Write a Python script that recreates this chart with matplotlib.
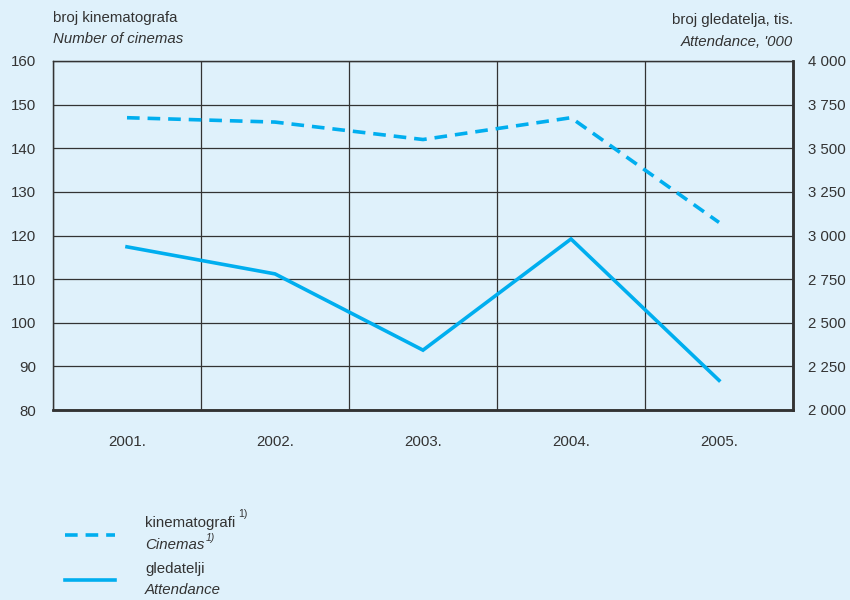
import matplotlib.pyplot as plt
from matplotlib.ticker import FuncFormatter, MultipleLocator

plt.rcParams['font.family'] = ['Liberation Sans', 'DejaVu Sans']

years = ['2001.', '2002.', '2003.', '2004.', '2005.']
cinemas = [147, 146, 142, 147, 123]
attendance = [2935, 2780, 2343, 2980, 2170]

bg = '#dff1fb'
blue = '#00aeef'
dark = '#333333'
fs = 10.8

fig = plt.figure(figsize=(8.5, 6), dpi=100, facecolor=bg)
ax = fig.add_axes([53/850, 1 - 410/600, 740/850, 349/600], facecolor=bg)
ax2 = ax.twinx()

x = range(len(years))
ax.plot(x, cinemas, color=blue, lw=2.6, dashes=(3.5, 2.2), solid_joinstyle='miter')
ax2.plot(x, attendance, color=blue, lw=2.6, solid_joinstyle='miter')

ax.set_xlim(-0.5, len(years) - 0.5)
ax.set_ylim(80, 160)
ax2.set_ylim(2000, 4000)
ax.set_xticks(list(x))
ax.set_xticklabels(years)
ax.xaxis.set_minor_locator(MultipleLocator(1, offset=0.5))
ax.yaxis.set_major_locator(MultipleLocator(10))
ax2.yaxis.set_major_locator(MultipleLocator(250))
ax2.yaxis.set_major_formatter(FuncFormatter(lambda v, p: f'{int(v):,}'.replace(',', ' ')))

ax.grid(True, which='minor', axis='x', color=dark, lw=0.9)
ax.grid(True, which='major', axis='y', color=dark, lw=0.9)
ax.set_axisbelow(True)

ax.tick_params(axis='both', which='both', length=0, labelsize=fs, labelcolor=dark)
ax.tick_params(axis='y', pad=12)
ax.tick_params(axis='x', pad=18)
ax2.tick_params(axis='y', length=0, labelsize=fs, labelcolor=dark, pad=11)

for a in (ax, ax2):
    for side in ['left', 'top']:
        a.spines[side].set_color(dark)
        a.spines[side].set_linewidth(0.9)
    for side in ['right', 'bottom']:
        a.spines[side].set_color(dark)
        a.spines[side].set_linewidth(1.8)

# axis titles
fig.text(53/850, 1 - 18/600, 'broj kinematografa', fontsize=fs, color=dark, va='center')
fig.text(53/850, 1 - 39/600, 'Number of cinemas', fontsize=fs, color=dark, va='center', style='italic')
fig.text(793/850, 1 - 20/600, 'broj gledatelja, tis.', fontsize=fs, color=dark, va='center', ha='right')
fig.text(793/850, 1 - 42/600, "Attendance, '000", fontsize=fs, color=dark, va='center', ha='right', style='italic')

# legend
fig.add_artist(plt.Line2D([65/850, 115/850], [1 - 535/600] * 2, color=blue, lw=2.6, dashes=(3.5, 2.2)))
fig.add_artist(plt.Line2D([65/850, 115/850], [1 - 580/600] * 2, color=blue, lw=2.6))
fig.text(145/850, 1 - 523/600, 'kinematografi', fontsize=fs, color=dark, va='center')
fig.text(238/850, 1 - 514/600, '1)', fontsize=7.5, color=dark, va='center')
fig.text(145/850, 1 - 545/600, 'Cinemas', fontsize=fs, color=dark, va='center', style='italic')
fig.text(206/850, 1 - 538/600, '1)', fontsize=7.5, color=dark, va='center', style='italic')
fig.text(145/850, 1 - 569/600, 'gledatelji', fontsize=fs, color=dark, va='center')
fig.text(145/850, 1 - 590/600, 'Attendance', fontsize=fs, color=dark, va='center', style='italic')

fig.savefig('out.png', dpi=100, facecolor=bg)
